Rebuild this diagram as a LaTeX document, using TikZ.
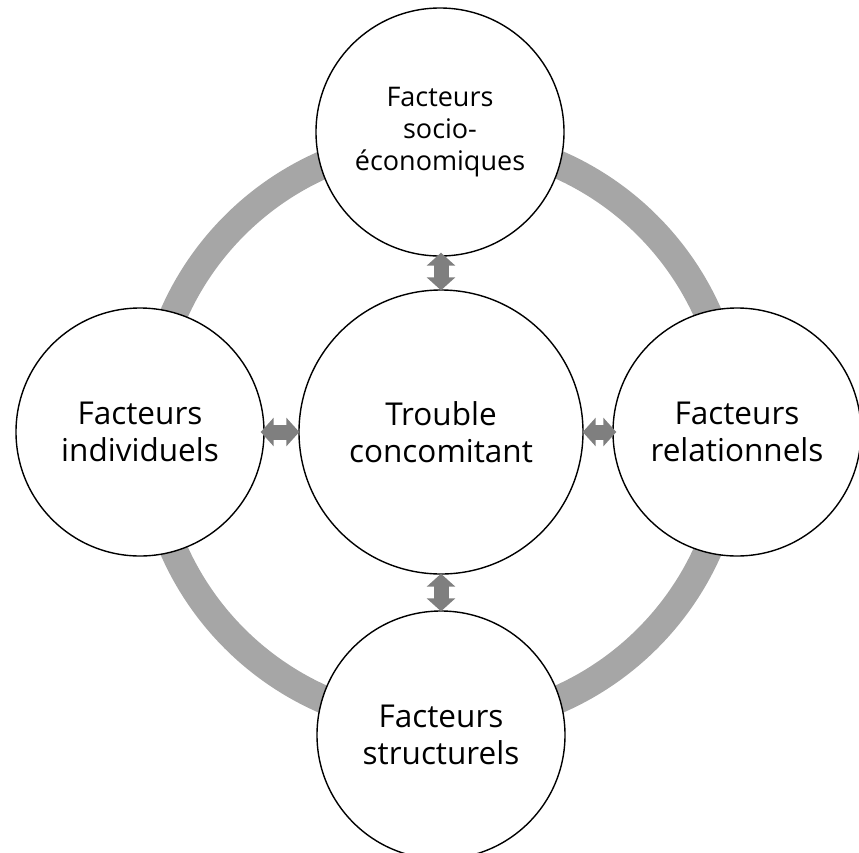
\documentclass[tikz,border=0pt]{standalone}
\usepackage{fontspec}
\setmainfont{Open Sans}
\usetikzlibrary{arrows.meta}
\definecolor{ringgray}{HTML}{A6A6A6}
\definecolor{arrowgray}{HTML}{7F7F7F}
\tikzset{
  bigcirc/.style={circle, draw=black, line width=1.4pt, fill=white, inner sep=0pt,
    minimum size=284pt, align=center, font=\fontsize{31.5}{37}\selectfont},
  satcirc/.style={circle, draw=black, line width=1.4pt, fill=white, inner sep=0pt,
    minimum size=248pt, align=center, font=\fontsize{31.5}{37}\selectfont},
  topcirc/.style={satcirc, font=\fontsize{27}{32}\selectfont},
  ringstyle/.style={draw=ringgray, line width=28pt},
  dblarrow/.style={draw=arrowgray, line width=15pt,
    {Triangle[length=13pt 0 0, width=28pt 0 0]}-{Triangle[length=13pt 0 0, width=28pt 0 0]}}
}
\begin{document}
\begin{tikzpicture}[x=1pt,y=-1pt]
\useasboundingbox (0,0) rectangle (859,852);
\coordinate (c) at (441,432);
\draw[ringstyle] (c) circle (292);
\node[bigcirc] (center) at (441,432) {Trouble\\concomitant};
\node[topcirc] (top) at (440,132) {Facteurs\\socio-\\économiques};
\node[satcirc] (left) at (140,432) {Facteurs\\individuels};
\node[satcirc] (right) at (737,432) {Facteurs\\relationnels};
\node[satcirc] (bottom) at (441,735) {Facteurs\\structurels};
\draw[dblarrow, shorten <=-4pt, shorten >=-1pt] (top.south -| center.north) -- (center.north);
\draw[dblarrow, shorten <=-1pt, shorten >=-1pt] (center.south) -- (bottom.north -| center.south);
\draw[dblarrow, shorten <=-4pt, shorten >=-1pt] (left.east) -- (center.west);
\draw[dblarrow, shorten <=-1pt, shorten >=-4pt] (center.east) -- (right.west);
\end{tikzpicture}
\end{document}
